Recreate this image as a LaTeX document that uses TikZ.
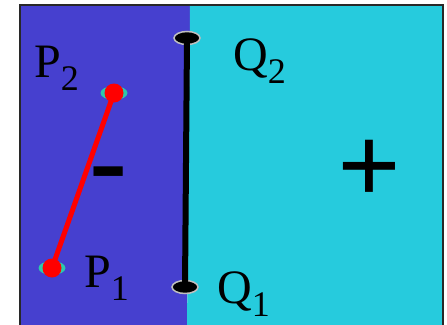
\documentclass[tikz,border=0pt]{standalone}
\usepackage{fontspec}
\setmainfont{Liberation Serif}
\newfontfamily\signfont{Liberation Sans}
\usetikzlibrary{shapes.geometric}
\definecolor{leftblue}{RGB}{70,64,207}
\definecolor{rightcyan}{RGB}{38,203,221}
\definecolor{halocol}{RGB}{45,200,170}
\definecolor{framecol}{RGB}{40,40,40}
\newcommand\lblsub[1]{\raisebox{-13pt}{\fontsize{36}{36}\selectfont #1}}
\tikzset{
  frameline/.style={draw=framecol, line width=2pt},
  halo/.style={ellipse, fill=halocol, inner sep=0pt, minimum width=27pt, minimum height=14pt},
  reddot/.style={circle, fill=red, inner sep=0pt, minimum size=19pt},
  redline/.style={draw=red, line width=5pt},
  qend/.style={ellipse, fill=black, draw=black!25, line width=1.5pt, inner sep=0pt, minimum width=26pt, minimum height=13pt},
  qline/.style={draw=black, line width=6pt},
  lbl/.style={inner sep=0pt, anchor=base west, font=\fontsize{48}{48}\selectfont},
  sign/.style={inner sep=0pt}
}
\begin{document}
\begin{tikzpicture}[x=1pt,y=-1pt]
\useasboundingbox (0,0) rectangle (447,324);
\fill[white] (0,0) rectangle (447,324);
\fill[leftblue] (20,5) -- (190,5) -- (187,330) -- (20,330) -- cycle;
\fill[rightcyan] (190,5) -- (443,5) -- (443,330) -- (187,330) -- cycle;
\draw[frameline] (20,330) -- (20,5) -- (443,5) -- (443,330);
% P segment
\coordinate (P1) at (52,268);
\coordinate (P2) at (114,93);
\node[halo] (h1) at (P1) {};
\node[halo] (h2) at (P2) {};
\draw[redline] (P1) -- (P2);
\node[reddot] (p1) at (P1) {};
\node[reddot] (p2) at (P2) {};
% Q segment
\node[qend] (q2) at (187,38) {};
\node[qend] (q1) at (185,287) {};
\draw[qline] (q2.center) -- (q1.center);
% labels
\node[lbl] (lp2) at (34,77) {P\lblsub{2}};
\node[lbl] (lp1) at (84,287) {P\lblsub{1}};
\node[lbl] (lq2) at (233,70) {Q\lblsub{2}};
\node[lbl] (lq1) at (217,303) {Q\lblsub{1}};
% signs
\node[sign] (minus) at (109,180) {\scalebox{1}[0.7]{\signfont\bfseries\fontsize{115}{115}\selectfont -}};
\node[sign] (plus) at (369,172) {\bfseries\fontsize{112}{112}\selectfont +};
\end{tikzpicture}
\end{document}
